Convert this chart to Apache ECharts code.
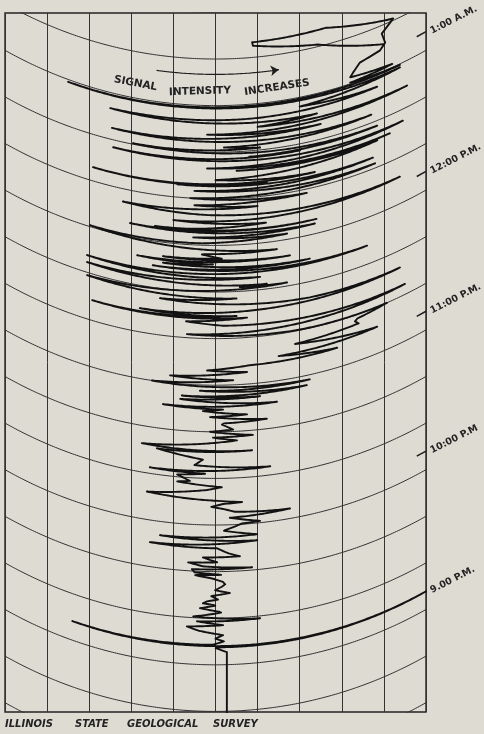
<!DOCTYPE html>
<html><head><meta charset="utf-8">
<script src="https://cdn.jsdelivr.net/npm/echarts@6/dist/echarts.min.js"></script>
<style>html,body{margin:0;padding:0;background:#dedbd3;}#c{width:484px;height:734px;}</style>
</head><body><div id="c"></div>
<script>
// ---- data (intensity 0-100 across the paper, time in minutes after 8:00 P.M.) ----
const arcTimes = [12, 32, 52, 72, 92, 112, 132, 152, 172, 192, 212, 232, 252, 272, 292, 312, 332];
const hourTimes = [60, 120, 180, 240, 300];
const hourLabels = ['9.00 P.M.', '10:00 P.M', '11:00 P.M.', '12:00 P.M.', '1:00 A.M.'];
const arrowSpan = [36, 65];
const arrowTime = 305.4;
const tracePoints = [
  [52.7,20],[52.7,57.4],[49.6,59.5],[100,59.8],[16,60.2],[49.4,60.6],[52,62],[50,63.2],[51.8,64.7],[46,66.5],
  [43.2,68.1],[51.8,69],[45.6,70.5],[60.6,71],[44.7,72.5],[51.8,74.5],[46.3,76.2],[50.4,77.5],[47,78.3],[48,79.2],
  [50.6,80],[49,81.5],[53.4,82.7],[49.9,84],[51.5,85.5],[52.7,87],[49.4,89],[44.7,90.4],[51.8,90.6],[45,91.5],
  [44.4,92.8],[58.7,93.2],[47,94.2],[43.5,95.6],[50.4,96],[47,98],[55.8,98.3],
  [52.7,100],[50.4,102],[34.4,102.5],[50.4,103.8],[59.9,104.6],[50.4,105.3],[36.8,106.1],[51.1,106.7],[59.9,107.2],
  [52,109.5],[56.3,112.3],[60.6,112.8],[53.4,115],[67.7,116.3],[54.6,117.5],[52,118.8],[49,119.8],[51.8,121],
  [56.3,121.5],[51.1,122.3],[33.7,124],[48,127],[51.5,128.2],[40.9,130],[43.9,130.6],[40.9,133],[48,134],[34.4,134.6],
  [63,135.7],[45,137.5],[47,140],[36.1,143.2],[58.7,143.4],[32.5,144.4],[55.1,148.1],
  [49.4,149.5],[58.9,150],[48.7,152],[54.2,152.8],[51.1,155.5],[62.2,156.3],[48.7,158.3],[57.5,159],[47,160.8],
  [51.8,161.5],[37.5,162.5],[64.6,163],[41.6,165.5],[60.6,166.3],[42,167],[71.7,167.8],[46.3,169.5],[72.4,170],
  [34.9,172],[54.2,174],[39.2,175.2],[48,176.2],[57.5,177.2],[48,178.3],[58.2,180],[78.9,180.5],[65,182.5],
  [88.4,183.5],[68.9,186.5],[84,188],[82.7,190],[90.7,192],
  [69.4,192.3],[43.2,193.5],[95,196.5],[51.8,197.5],[43,199],[57.5,200.5],[20.7,200.7],[55,201.5],[32,202.2],
  [60,203.5],[93.8,204.6],[72.4,205.2],[36.8,207.8],[55,209],[19.5,210.8],[67,213.5],[55.8,213.8],[62.2,214.2],
  [19.5,216.4],[60.6,217.5],[19.5,219.4],[86,220],[35.1,221.5],[72.4,221.8],[37.5,223.2],[49.4,223.8],[31.4,224.7],
  [67.7,224.9],[37.5,226],[51.5,226.3],[46.3,228.2],[64.6,228.5],[20.2,232.6],[46.8,232.8],[67,234.5],[44.7,235.2],
  [73.6,236.4],[29.7,237.9],[74,238.2],[35.6,238.5],[43.9,238.8],
  [62,240.5],[40,242],[93.8,243.6],[48,245],[28,246.5],[60,248],[45,249],[59.9,250],[71.7,250.3],[44,252],
  [87.9,254],[45,255.2],[87.4,256.8],[40.9,257.5],[62.2,257.8],[20.9,257.9],[73.6,258.5],[50,260],[88.4,263.5],
  [55,263.8],[91.4,264.2],[48,265],[94.5,267],[25.7,268.8],[70.1,269.2],[58,269.5],[88.4,269.8],[30.4,272.4],
  [60.6,273],[52,274],[87,275.5],[25.4,277],[75,278.5],[48,279.5],[95.5,281.2],[60,282],[74.1,283.4],[25,285.3],
  [34.4,285.6],[59,285.8],[88.4,286.5],[70,288],[93.8,290.5],[15,291],[93.8,291.6],[82,292.5],[92,293.5],
  [82,294.8],[82.7,296.5],[84.3,299.7],[89.1,301.6],[90.3,304],[89.5,308.5],[92.2,312.8],[76.2,319.2],
  [58.7,318.5],[58.9,317],[74.3,312.9],[89.8,303.7]
];

// ---- chart-paper geometry (pen swings on an arc) ----
const Y_MIN = 8, Y_MAX = 308;
const GRID = {left: 5, right: 58, top: 13, bottom: 22};
const PX_PER_I = (484 - GRID.left - GRID.right) / 100;
const PX_PER_MIN = (734 - GRID.top - GRID.bottom) / (Y_MAX - Y_MIN);
const PEN_R = 428, CENTER_I = 50;
function sag(i) { const d = (i - CENTER_I) * PX_PER_I; return PEN_R - Math.sqrt(PEN_R * PEN_R - d * d); }
const SAG_EDGE = sag(100);
function toPlot(i, t) { return [i, t - (SAG_EDGE - sag(i)) / PX_PER_MIN]; }
function pathThrough(points) {
  const out = [];
  for (let k = 0; k < points.length; k++) {
    const [i1, t1] = points[k];
    if (k === 0) { out.push(toPlot(i1, t1)); continue; }
    const [i0, t0] = points[k - 1];
    const n = Math.max(1, Math.ceil(Math.abs(i1 - i0) / 0.5));
    for (let s = 1; s <= n; s++) {
      const f = s / n;
      out.push(toPlot(i0 + (i1 - i0) * f, t0 + (t1 - t0) * f));
    }
  }
  return out;
}

const series = [];
arcTimes.forEach(function (t) {
  series.push({
    type: 'line', data: pathThrough([[0, t], [100, t]]), symbol: 'none', silent: true, clip: true,
    lineStyle: {color: '#303030', width: 1}, z: 1
  });
});
series.push({
  type: 'line', data: pathThrough(tracePoints), symbol: 'none', silent: true, clip: true,
  lineStyle: {color: '#121212', width: 1.9, join: 'round', cap: 'round'}, z: 3
});
series.push({
  type: 'line', data: pathThrough([[arrowSpan[0], arrowTime], [arrowSpan[1], arrowTime]]), symbol: 'none', silent: true,
  lineStyle: {color: '#1e1e1e', width: 1.2}, z: 3
});
series.push({
  type: 'lines', coordinateSystem: 'cartesian2d', silent: true, z: 3,
  symbol: ['none', 'arrow'], symbolSize: 8,
  lineStyle: {color: '#1e1e1e', width: 1.2, opacity: 1},
  data: [{coords: [toPlot(arrowSpan[1] - 1.5, arrowTime), toPlot(arrowSpan[1], arrowTime)]}]
});
// hour tick marks on the right edge, following the paper arc
series.push({
  type: 'lines', coordinateSystem: 'cartesian2d', silent: true, z: 4,
  lineStyle: {color: '#1e1e1e', width: 1.5, opacity: 1},
  data: hourTimes.slice(1).map(function (t) { return {coords: [toPlot(97.8, t), toPlot(100, t)]}; })
});

const chart = echarts.init(document.getElementById('c'), null, {renderer: 'canvas'});
const txt = '#232323';
chart.setOption({
  animation: false,
  backgroundColor: '#dedbd3',
  grid: {left: GRID.left, right: GRID.right, top: GRID.top, bottom: GRID.bottom, show: true,
         borderColor: '#232323', borderWidth: 1.4, backgroundColor: 'transparent',
         containLabel: false, outerBoundsMode: 'none'},
  xAxis: {type: 'value', min: 0, max: 100, interval: 10,
          axisLine: {show: false}, axisTick: {show: false}, axisLabel: {show: false},
          splitLine: {show: true, lineStyle: {color: '#333', width: 1}}},
  yAxis: {type: 'value', min: Y_MIN, max: Y_MAX, position: 'right',
          axisLine: {show: false}, splitLine: {show: false}, axisTick: {show: false},
          axisLabel: {show: true, customValues: hourTimes, rotate: 27, margin: 5,
                      formatter: function (v) { const k = hourTimes.indexOf(v); return k >= 0 ? hourLabels[k] : ''; },
                      fontSize: 9.5, fontWeight: 'bold', fontFamily: 'DejaVu Sans', color: txt}},
  graphic: [
    {type: 'text', x: 135.5, y: 83.5, rotation: -0.19, silent: true,
     style: {text: 'SIGNAL', font: 'bold 10.5px "DejaVu Sans"', fill: txt, align: 'center', verticalAlign: 'middle'}},
    {type: 'text', x: 200, y: 91.5, rotation: 0.03, silent: true,
     style: {text: 'INTENSITY', font: 'bold 10.5px "DejaVu Sans"', fill: txt, align: 'center', verticalAlign: 'middle'}},
    {type: 'text', x: 277, y: 87.5, rotation: 0.15, silent: true,
     style: {text: 'INCREASES', font: 'bold 10.5px "DejaVu Sans"', fill: txt, align: 'center', verticalAlign: 'middle'}},
    {type: 'text', x: 5, y: 724.5, silent: true,
     style: {text: 'ILLINOIS', font: 'italic bold 10px "DejaVu Sans"', fill: txt, align: 'left', verticalAlign: 'middle'}},
    {type: 'text', x: 75, y: 724.5, silent: true,
     style: {text: 'STATE', font: 'italic bold 10px "DejaVu Sans"', fill: txt, align: 'left', verticalAlign: 'middle'}},
    {type: 'text', x: 127, y: 724.5, silent: true,
     style: {text: 'GEOLOGICAL', font: 'italic bold 10px "DejaVu Sans"', fill: txt, align: 'left', verticalAlign: 'middle'}},
    {type: 'text', x: 213, y: 724.5, silent: true,
     style: {text: 'SURVEY', font: 'italic bold 10px "DejaVu Sans"', fill: txt, align: 'left', verticalAlign: 'middle'}}
  ],
  series: series
});
</script></body></html>
